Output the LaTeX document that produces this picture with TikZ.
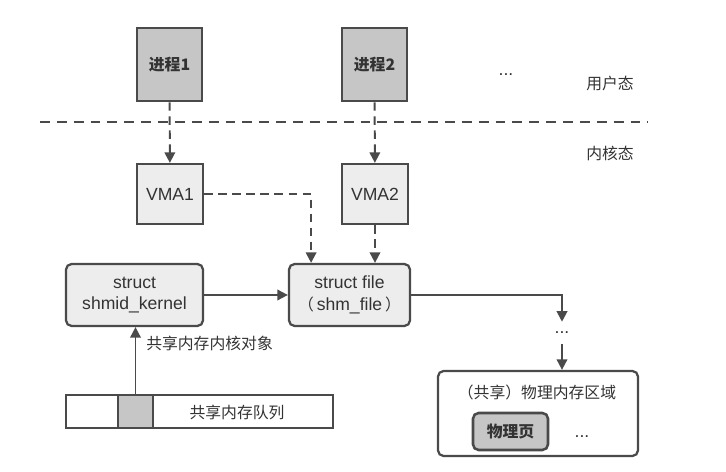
\documentclass[tikz,border=0pt]{standalone}
\usepackage{fontspec}
\setmainfont{Liberation Sans}
\newfontfamily\cjk[Scale=0.9]{Noto Sans CJK SC}
\usetikzlibrary{arrows.meta,positioning}
\definecolor{boxline}{HTML}{4A4A4A}
\definecolor{procfill}{HTML}{C6C6C6}
\definecolor{lightfill}{HTML}{EDEDED}
\definecolor{txt}{HTML}{333333}

\begin{document}
\begin{tikzpicture}[x=0.025cm,y=-0.025cm,
  font=\fontsize{12.5}{15.5}\selectfont, text=txt,
  procbox/.style={draw=boxline,line width=1.8pt,fill=procfill,minimum width=1.625cm,minimum height=1.825cm,inner sep=0pt,font=\fontsize{12.5}{15.5}\selectfont\bfseries},
  vmabox/.style={draw=boxline,line width=1.6pt,fill=lightfill,minimum width=1.65cm,minimum height=1.5cm,inner sep=0pt},
  structbox/.style={draw=boxline,line width=1.6pt,fill=lightfill,rounded corners=4pt,minimum height=1.55cm,align=center,inner sep=0pt},
  dasharrow/.style={draw=boxline,line width=1.4pt,dash pattern=on 6pt off 4pt,-{Triangle[length=7.5pt,width=7.5pt]}},
  solidarrow/.style={draw=boxline,line width=1.4pt,-{Triangle[length=7.5pt,width=7.5pt]}},
  plain/.style={inner sep=0pt}]
  \useasboundingbox (0,0) rectangle (726,472);

  % user space / kernel space
  \coordinate (sepL) at (40,122);
  \coordinate (sepR) at (648,122);
  \draw[boxline,line width=1.3pt,dash pattern=on 7pt off 5pt] (sepL) -- (sepR);
  \node[plain] (user) at (610,83) {\cjk 用户态};
  \node[plain] (kernel) at (610,153) {\cjk 内核态};
  \node[plain] (moreproc) at (506,75) {...};

  \node[procbox] (proc1) at (169.5,64.5) {\cjk 进程1};
  \node[procbox] (proc2) at (374.5,64.5) {\cjk 进程2};
  \node[vmabox] (vma1) at (170,194) {VMA1};
  \node[vmabox] (vma2) at (375,194) {VMA2};

  \node[structbox,minimum width=3.425cm] (shmid) at (134.5,295) {struct\\shmid\_kernel};
  \node[structbox,minimum width=3.025cm] (file) at (349.5,295) {struct file\\{\cjk （}\,shm\_file\,{\cjk ）}};

  \draw[dasharrow] (proc1) -- (vma1);
  \draw[dasharrow] (proc2) -- (vma2);
  \draw[dasharrow] (vma1) -| ([xshift=-0.96cm]file.north);
  \draw[dasharrow] (vma2.south) -- (vma2.south |- file.north);
  \draw[solidarrow] (shmid) -- (file);

  % physical memory
  \node[plain,minimum height=0.55cm] (moremap) at (562,333) {...};
  \draw[solidarrow] (file.east) -| (moremap.north);
  \node[draw=boxline,line width=1.6pt,rounded corners=4pt,minimum width=5cm,minimum height=2.125cm] (phys) at (538,413.5) {};
  \draw[solidarrow] (moremap.south) -- (phys.north -| moremap.south);
  \node[plain] (physlbl) at (537,392) {\cjk （共享）物理内存区域};
  \node[draw=boxline,line width=1.8pt,fill=procfill,rounded corners=4pt,minimum width=1.875cm,minimum height=0.925cm,inner sep=0pt,font=\fontsize{12.5}{15.5}\selectfont\bfseries] (page) at (510.5,431.5) {\cjk 物理页};
  \node[plain] (morepage) at (582,437) {...};

  % shared memory queue
  \node[draw=boxline,line width=1.3pt,minimum width=6.675cm,minimum height=0.825cm] (queue) at (199.5,411.5) {};
  \node[draw=boxline,line width=1.3pt,fill=procfill,minimum width=0.875cm,minimum height=0.825cm] (cell) at (135.5,411.5) {};
  \node[plain] (queuelbl) at (237,412) {\cjk 共享内存队列};
  \draw[solidarrow] (cell.north) -- (cell.north |- shmid.south);
  \node[plain,anchor=west] (objlbl) at (146,343) {\cjk 共享内存内核对象};
\end{tikzpicture}
\end{document}
